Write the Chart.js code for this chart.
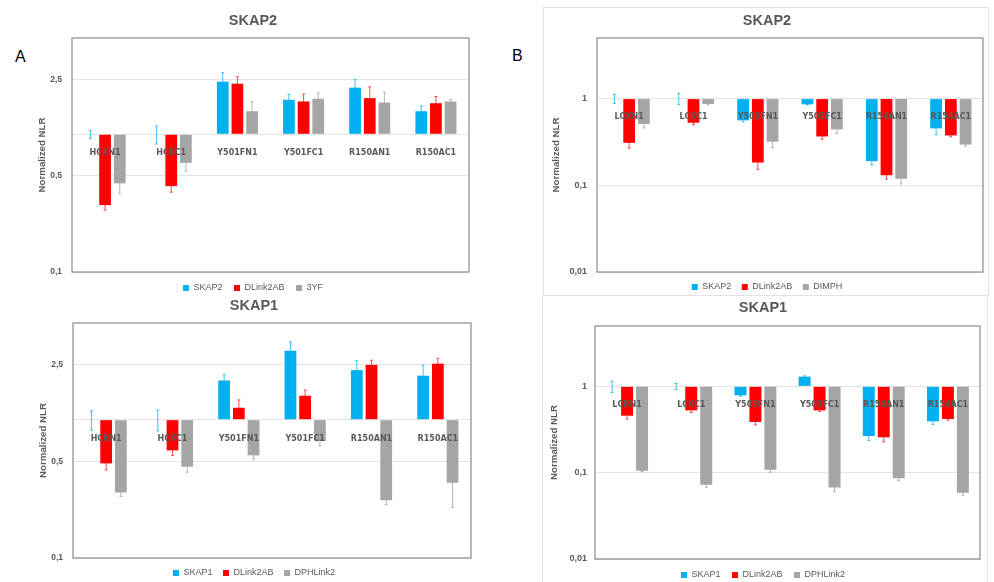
<!DOCTYPE html>
<html>
<head>
<meta charset="utf-8">
<script src="https://cdn.jsdelivr.net/npm/chart.js@4.4.1/dist/chart.umd.min.js"></script>
<style>
  html, body { margin: 0; padding: 0; background: #fff; }
  body { position: relative; width: 994px; height: 582px; overflow: hidden; }
  canvas { position: absolute; }
  .letter { position: absolute; font: 16px 'Liberation Sans', Arial, sans-serif; line-height: 1; color: #000; }
  .box { position: absolute; border: 1px solid #e2e2e2; box-sizing: border-box; }
</style>
</head>
<body>
<div class="box" style="left:543px; top:7px; width:446px; height:289px;"></div>
<div class="box" style="left:542px; top:295px; width:446px; height:300px;"></div>
<div class="letter" style="left:15px; top:49px;">A</div>
<div class="letter" style="left:512px; top:48px;">B</div>
<canvas id="chartA1"></canvas>
<canvas id="chartA2"></canvas>
<canvas id="chartB1"></canvas>
<canvas id="chartB2"></canvas>
<script>
// categories of each column
const categoriesA = ['HCKN1', 'HCKC1', 'Y501FN1', 'Y501FC1', 'R150AN1', 'R150AC1'];
const categoriesB = ['LCKN1', 'LCKC1', 'Y505FN1', 'Y505FC1', 'R154AN1', 'R154AC1'];

// A - SKAP2
const a1Skap2 = [1, 1, 2.41, 1.78, 2.18, 1.47];
const a1Skap2Err = [0.065, 0.15, 0.39, 0.17, 0.31, 0.14];
const a1Dlink = [0.306, 0.42, 2.33, 1.73, 1.83, 1.68];
const a1DlinkErr = [0.025, 0.04, 0.29, 0.23, 0.38, 0.2];
const a13yf = [0.44, 0.62, 1.47, 1.81, 1.70, 1.73];
const a13yfErr = [0.07, 0.08, 0.26, 0.19, 0.32, 0.06];

// A - SKAP1
const a2Skap1 = [1, 1, 1.92, 3.15, 2.28, 2.08];
const a2Skap1Err = [0.16, 0.17, 0.21, 0.5, 0.39, 0.4];
const a2Dlink = [0.483, 0.60, 1.22, 1.49, 2.49, 2.54];
const a2DlinkErr = [0.05, 0.05, 0.17, 0.15, 0.2, 0.24];
const a2Dph = [0.298, 0.457, 0.552, 0.70, 0.261, 0.35];
const a2DphErr = [0.02, 0.04, 0.035, 0.055, 0.017, 0.118];

// B - SKAP2
const b1Skap2 = [1, 1, 0.561, 0.859, 0.19, 0.453];
const b1Skap2Err = [0.12, 0.15, 0.025, 0.01, 0.018, 0.07];
const b1Dlink = [0.309, 0.527, 0.183, 0.366, 0.131, 0.376];
const b1DlinkErr = [0.04, 0.03, 0.03, 0.025, 0.013, 0.013];
const b1Dimph = [0.509, 0.868, 0.318, 0.441, 0.119, 0.295];
const b1DimphErr = [0.05, 0.02, 0.045, 0.045, 0.015, 0.012];

// B - SKAP1
const b2Skap1 = [1, 1, 0.787, 1.295, 0.266, 0.393];
const b2Skap1Err = [0.15, 0.08, 0.02, 0.03, 0.03, 0.03];
const b2Dlink = [0.457, 0.527, 0.387, 0.527, 0.257, 0.419];
const b2DlinkErr = [0.04, 0.03, 0.03, 0.015, 0.03, 0.015];
const b2Dph = [0.105, 0.0726, 0.108, 0.0675, 0.0859, 0.0586];
const b2DphErr = [0.002, 0.005, 0.007, 0.0075, 0.005, 0.004];

// y axes (log scale, bars start at 1)
const rangeA = [0.1, 5];
const ticksA = [0.1, 0.5, 1, 2.5];
const tickLabelsA = ['0,1', '0,5', '', '2,5'];
const rangeB = [0.01, 5];
const ticksB = [0.01, 0.1, 1];
const tickLabelsB = ['0,01', '0,1', '1'];

const BLUE = '#00B0F0';
const RED = '#FF0000';
const GRAY = '#A5A5A5';
const TEXT = '#595959';
const TITLE_SIZE = 14.5;
const LEGEND_SIZE = 9;

Chart.defaults.font.family = "'Liberation Sans', Arial, sans-serif";
Chart.defaults.color = TEXT;

// frame around the plot area
const plotFrame = {
    id: 'plotFrame',
    beforeDatasetsDraw(chart) {
        const {ctx, chartArea: a} = chart;
        ctx.save();
        ctx.strokeStyle = '#8a8a8a';
        ctx.lineWidth = 1.2;
        ctx.strokeRect(a.left, a.top, a.right - a.left, a.bottom - a.top);
        ctx.restore();
    }
};

// error whiskers, drawn under the bars so only the outer half shows
const errorBars = {
    id: 'errorBars',
    beforeDatasetsDraw(chart) {
        const {ctx} = chart;
        const y = chart.scales.y;
        chart.data.datasets.forEach((ds, i) => {
            const meta = chart.getDatasetMeta(i);
            ctx.save();
            ctx.strokeStyle = ds.errorColor;
            ctx.lineWidth = 1;
            meta.data.forEach((bar, j) => {
                const v = ds.data[j];
                const e = ds.errors[j];
                const yTop = y.getPixelForValue(v + e);
                const yBot = y.getPixelForValue(Math.max(v - e, y.min));
                ctx.beginPath();
                ctx.moveTo(bar.x, yTop);
                ctx.lineTo(bar.x, yBot);
                ctx.moveTo(bar.x - 1.5, yTop);
                ctx.lineTo(bar.x + 1.5, yTop);
                ctx.moveTo(bar.x - 1.5, yBot);
                ctx.lineTo(bar.x + 1.5, yBot);
                ctx.stroke();
            });
            ctx.restore();
        });
    }
};

function makeDataset(label, values, errors, color, errorColor, geo) {
    return {
        label: label,
        data: values,
        errors: errors,
        base: 1,
        backgroundColor: color,
        errorColor: errorColor,
        borderWidth: 0,
        categoryPercentage: geo.catPct,
        barPercentage: 0.8
    };
}

/**
 * Draws one panel. geo holds the wanted plot area (page pixels),
 * the centre of title / legend and their vertical positions.
 */
function renderPanel(canvasId, geo, title, categories, datasets, range, tickValues, tickLabels) {
    const canvas = document.getElementById(canvasId);
    const titleLine = TITLE_SIZE * 1.2;
    const yWidth = geo.area.left + geo.area.right - 2 * geo.centerX;
    const titlePadTop = geo.titleY - geo.top - titleLine / 2;
    const titlePadBottom = geo.area.top - geo.top - titlePadTop - titleLine;
    const legendPad = geo.legendY - geo.area.bottom - LEGEND_SIZE / 2;
    const legendHeight = LEGEND_SIZE + legendPad + 10;
    const height = Math.ceil(geo.area.bottom - geo.top + legendHeight + 1);

    canvas.width = geo.width;
    canvas.height = height;
    canvas.style.left = geo.left + 'px';
    canvas.style.top = geo.top + 'px';

    new Chart(canvas.getContext('2d'), {
        type: 'bar',
        data: { labels: categories, datasets: datasets },
        plugins: [plotFrame, errorBars],
        options: {
            responsive: false,
            animation: false,
            layout: {
                padding: {
                    left: geo.area.left - yWidth - geo.left,
                    right: geo.left + geo.width - geo.area.right,
                    top: 0,
                    bottom: height - (geo.area.bottom - geo.top) - legendHeight
                }
            },
            scales: {
                x: {
                    position: { y: 1 },
                    grid: { display: false },
                    border: { display: false },
                    ticks: {
                        z: 1, // category names sit on top of the bars
                        font: { family: "'DejaVu Sans', Verdana, sans-serif", weight: 'bold', size: 8 },
                        color: TEXT,
                        padding: 6,
                        maxRotation: 0,
                        autoSkip: false
                    }
                },
                y: {
                    type: 'logarithmic',
                    min: range[0],
                    max: range[1],
                    afterBuildTicks: scale => {
                        scale.ticks = tickValues.map(v => ({ value: v }));
                    },
                    afterFit: scale => {
                        scale.width = yWidth;
                    },
                    ticks: {
                        callback: value => {
                            const k = tickValues.indexOf(value);
                            return k >= 0 ? tickLabels[k] : '';
                        },
                        font: { size: geo.tickSize, weight: 'bold' },
                        color: TEXT,
                        padding: geo.tickPad
                    },
                    grid: { color: '#e3e3e3', drawTicks: false },
                    border: { display: false },
                    title: {
                        display: true,
                        text: 'Normalized NLR',
                        font: { size: 9.7, weight: 'bold' },
                        color: TEXT,
                        padding: { top: geo.yTitlePad, bottom: 0 }
                    }
                }
            },
            plugins: {
                title: {
                    display: true,
                    text: title,
                    font: { size: TITLE_SIZE, weight: 'bold' },
                    color: TEXT,
                    padding: { top: titlePadTop, bottom: titlePadBottom }
                },
                legend: {
                    position: 'bottom',
                    labels: {
                        boxWidth: 6,
                        boxHeight: 6,
                        padding: legendPad,
                        font: { size: LEGEND_SIZE },
                        color: TEXT
                    }
                },
                tooltip: { enabled: false }
            }
        }
    });
}

const geoA1 = { left: 0, top: 0, width: 497, area: { left: 72, top: 38, right: 469, bottom: 272 }, centerX: 253, titleY: 21, legendY: 288, yTitlePad: 0, tickPad: 10, tickSize: 8.5, catPct: 0.665 };
const geoA2 = { left: 0, top: 292, width: 497, area: { left: 73, top: 323, right: 471, bottom: 558 }, centerX: 254, titleY: 306, legendY: 573, yTitlePad: 0.5, tickPad: 10, tickSize: 8.5, catPct: 0.665 };
const geoB1 = { left: 500, top: 0, width: 494, area: { left: 597, top: 38, right: 983, bottom: 272 }, centerX: 767, titleY: 21, legendY: 287, yTitlePad: 0, tickPad: 10, tickSize: 9, catPct: 0.686 };
const geoB2 = { left: 500, top: 292, width: 494, area: { left: 595, top: 326, right: 980, bottom: 559 }, centerX: 763, titleY: 308, legendY: 575, yTitlePad: 3, tickPad: 8, tickSize: 9, catPct: 0.70 };

renderPanel('chartA1', geoA1, 'SKAP2', categoriesA, [
    makeDataset('SKAP2', a1Skap2, a1Skap2Err, BLUE, 'rgba(0,176,240,0.75)', geoA1),
    makeDataset('DLink2AB', a1Dlink, a1DlinkErr, RED, 'rgba(240,40,40,0.8)', geoA1),
    makeDataset('3YF', a13yf, a13yfErr, GRAY, 'rgba(165,165,165,0.8)', geoA1)
], rangeA, ticksA, tickLabelsA);

renderPanel('chartA2', geoA2, 'SKAP1', categoriesA, [
    makeDataset('SKAP1', a2Skap1, a2Skap1Err, BLUE, 'rgba(0,176,240,0.75)', geoA2),
    makeDataset('DLink2AB', a2Dlink, a2DlinkErr, RED, 'rgba(240,40,40,0.8)', geoA2),
    makeDataset('DPHLink2', a2Dph, a2DphErr, GRAY, 'rgba(165,165,165,0.8)', geoA2)
], rangeA, ticksA, tickLabelsA);

renderPanel('chartB1', geoB1, 'SKAP2', categoriesB, [
    makeDataset('SKAP2', b1Skap2, b1Skap2Err, BLUE, 'rgba(0,176,240,0.75)', geoB1),
    makeDataset('DLink2AB', b1Dlink, b1DlinkErr, RED, 'rgba(240,40,40,0.8)', geoB1),
    makeDataset('DIMPH', b1Dimph, b1DimphErr, GRAY, 'rgba(165,165,165,0.8)', geoB1)
], rangeB, ticksB, tickLabelsB);

renderPanel('chartB2', geoB2, 'SKAP1', categoriesB, [
    makeDataset('SKAP1', b2Skap1, b2Skap1Err, BLUE, 'rgba(0,176,240,0.75)', geoB2),
    makeDataset('DLink2AB', b2Dlink, b2DlinkErr, RED, 'rgba(240,40,40,0.8)', geoB2),
    makeDataset('DPHLink2', b2Dph, b2DphErr, GRAY, 'rgba(165,165,165,0.8)', geoB2)
], rangeB, ticksB, tickLabelsB);
</script>
</body>
</html>
